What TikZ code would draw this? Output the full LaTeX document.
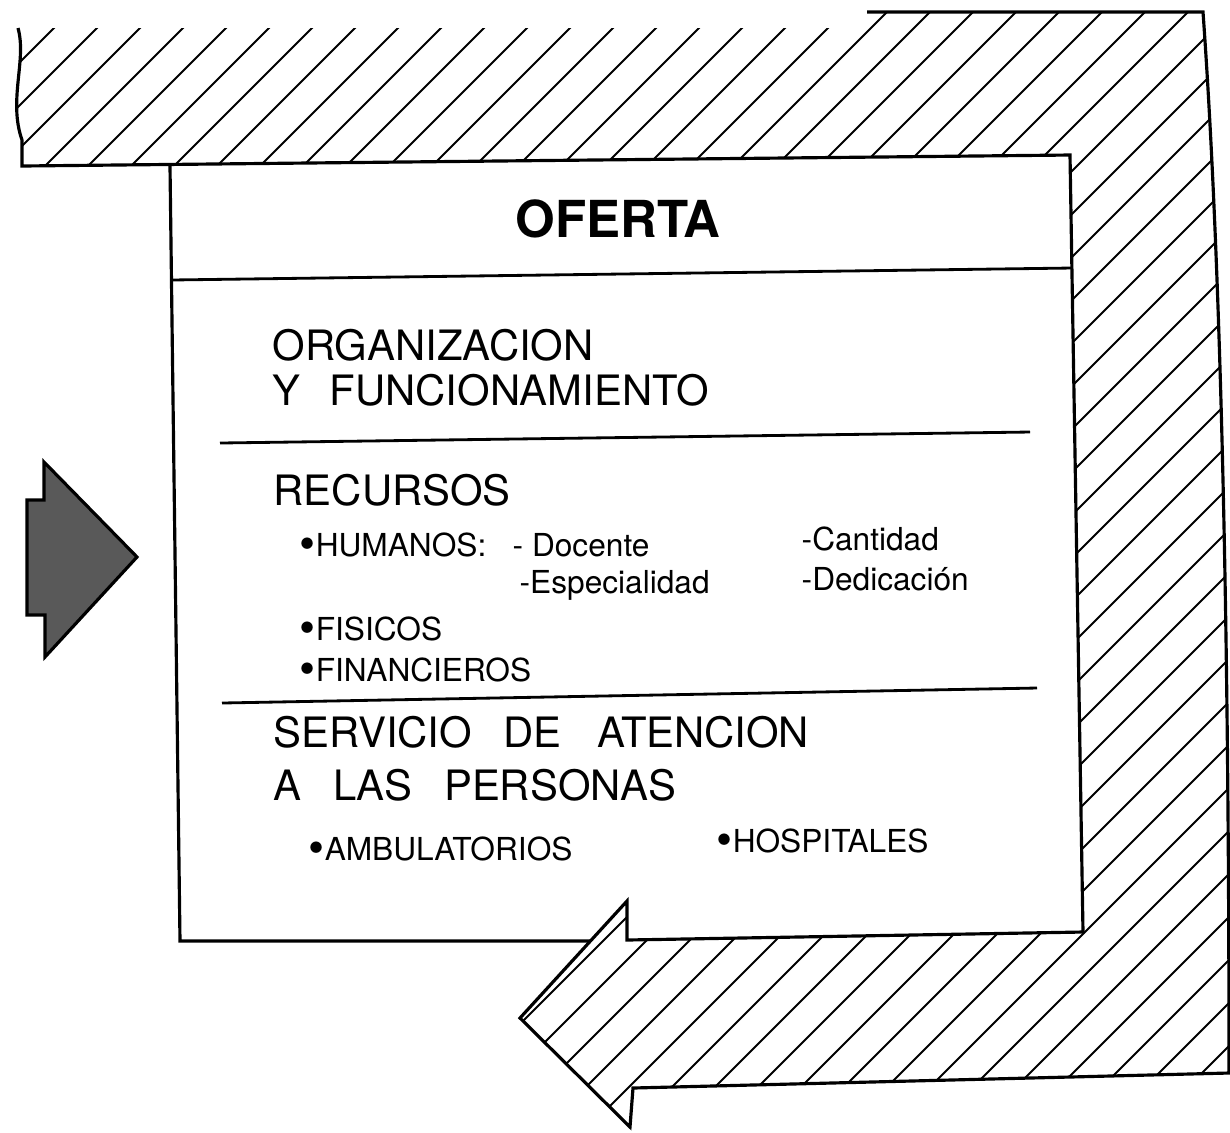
\documentclass[tikz,border=0pt]{standalone}
\usepackage{fontspec}
\setmainfont{TeX Gyre Heros}
\newcommand{\bigdot}{\smash{\raisebox{-0.9pt}{\scalebox{1.45}{\textbullet}}}}
\tikzset{
	outline/.style={line width=0.9pt, line join=miter},
	hatchline/.style={line width=0.55pt},
	divider/.style={line width=0.8pt},
	headtxt/.style={anchor=base, inner sep=0pt, font=\fontsize{14.5}{17}\selectfont\bfseries},
	bigtxt/.style={anchor=base west, inner sep=0pt, font=\fontsize{11.9}{14}\selectfont},
	smalltxt/.style={anchor=base west, inner sep=0pt, font=\fontsize{9}{11}\selectfont}
}

\begin{document}
\begin{tikzpicture}[x=0.01cm, y=-0.01cm]
%	\draw[help lines, step=100] (0,0) grid (1230,1132);
	\useasboundingbox (0,0) rectangle (1230,1132);
	\begin{scope}
		\clip (18,28) .. controls (27,60) and (8,100) .. (22,140) -- (22,166) -- (1070,155) -- (1083,932) -- (627,940) -- (627,901) -- (520,1018) -- (630,1127) -- (633,1088) -- (1229,1073) .. controls (1229,600) and (1220,250) .. (1203,12) -- (867,12) -- (862,28) -- cycle;
		\foreach \k in {0,...,53}
			\draw [hatchline] ({39+43*\k},0) -- ++(-1140,1140);
	\end{scope}
	\draw [outline] (18,28) .. controls (27,60) and (8,100) .. (22,140) -- (22,166) -- (1070,155) -- (1083,932) -- (627,940) -- (627,901) -- (520,1018) -- (630,1127) -- (633,1088) -- (1229,1073) .. controls (1229,600) and (1220,250) .. (1203,12) -- (867,12);
	\draw [outline] (170,166) -- (180,941) -- (590,941);
	\draw [divider] (171,280) -- (1072,268);
	\draw [divider] (220,443) -- (1030,432);
	\draw [divider] (222,703) -- (1037,688);
	\draw [outline, fill=black!65] (27,500) -- (44,500) -- (44,462) -- (137,557) -- (45,657) -- (45,615) -- (27,615) -- cycle;
	\node [headtxt] (oferta) at (618,237) {OFERTA};
	\node [bigtxt] (organiz) at (272,360) {ORGANIZACION};
	\node [bigtxt] (funcion) at (272,405) {Y\hspace{.7em}FUNCIONAMIENTO};
	\node [bigtxt] (recursos) at (273,505) {RECURSOS};
	\node [smalltxt] (humanos) at (299,556) {\bigdot HUMANOS:};
	\node [smalltxt] (docente) at (512,556) {- Docente};
	\node [smalltxt] (cantidad) at (801,550) {-Cantidad};
	\node [smalltxt] (especial) at (519,593) {-Especialidad};
	\node [smalltxt] (dedic) at (801,590) {-Dedicación};
	\node [smalltxt] (fisicos) at (299,640) {\bigdot FISICOS};
	\node [smalltxt] (financ) at (299,681) {\bigdot FINANCIEROS};
	\node [bigtxt] (servicio) at (273,747) {SERVICIO\hspace{.75em}DE\hspace{.85em}ATENCION};
	\node [bigtxt] (personas) at (273,800) {A\hspace{.75em}LAS\hspace{.75em}PERSONAS};
	\node [smalltxt] (ambul) at (308,860) {\bigdot AMBULATORIOS};
	\node [smalltxt] (hospit) at (716,852) {\bigdot HOSPITALES};
\end{tikzpicture}
\end{document}
